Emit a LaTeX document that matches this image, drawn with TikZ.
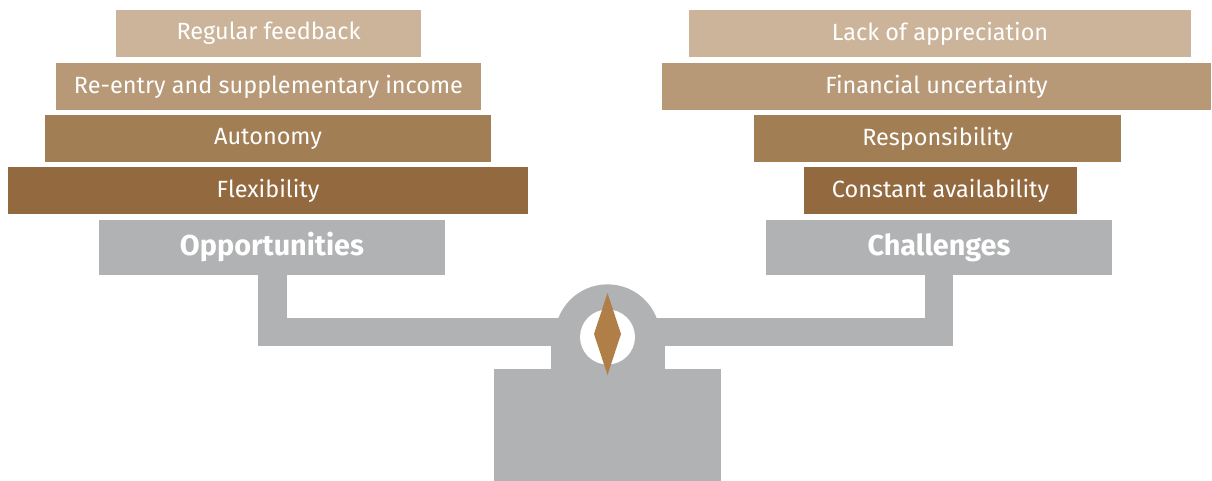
\documentclass[tikz,border=0pt]{standalone}
\usepackage{fontspec}
\setmainfont{Fira Sans}
\usepackage{xcolor}
\usepackage{tikz}

\definecolor{tanA}{HTML}{CBB49A}
\definecolor{tanB}{HTML}{B79877}
\definecolor{tanC}{HTML}{A27E55}
\definecolor{tanD}{HTML}{936A3F}
\definecolor{scalegrey}{HTML}{B1B2B4}
\definecolor{needle}{HTML}{B07F48}

\tikzset{
	bar/.style={rectangle,inner sep=0pt,minimum height=35.25pt,text=white,
		font=\fontsize{17.6}{20}\selectfont},
	pan/.style={rectangle,inner sep=0pt,minimum height=41.25pt,minimum width=259.5pt,
		fill=scalegrey,text=white,font=\fontsize{21.6}{24}\selectfont\bfseries}
}

\begin{document}
\begin{tikzpicture}[x=0.75pt,y=-0.75pt]
	\useasboundingbox (0,0) rectangle (1212,481);

	% the scale
	\fill[scalegrey] (258,275) rectangle (287,346);
	\fill[scalegrey] (925,275) rectangle (953,346);
	\fill[scalegrey] (258,318) rectangle (953,346);
	\fill[scalegrey] (551,318) rectangle (665,369);
	\fill[scalegrey] (607.5,337) circle [radius=39.5pt];
	\fill[white] (607.5,337) circle [radius=20.6pt];
	\fill[scalegrey] (494,369) rectangle (721,481);
	\fill[needle] (607.5,293) -- (621,334) -- (607.5,375) -- (594,334) -- cycle;

	% left pan
	\node[pan] (opp) at (272,247.5) {Opportunities};
	\node[bar,fill=tanD,minimum width=390pt] (flex) at (268,190.5) {Flexibility};
	\node[bar,fill=tanC,minimum width=334.5pt] (auto) at (268,138.5) {Autonomy};
	\node[bar,fill=tanB,minimum width=318.75pt] (reentry) at (268.5,86.5) {Re-entry and supplementary income};
	\node[bar,fill=tanA,minimum width=228.75pt] (feedback) at (268.5,33.5) {Regular feedback};

	% right pan
	\node[pan] (chal) at (939,247.5) {Challenges};
	\node[bar,fill=tanD,minimum width=204.75pt] (avail) at (940.5,190.5) {Constant availability};
	\node[bar,fill=tanC,minimum width=275.25pt] (resp) at (937.5,138.5) {Responsibility};
	\node[bar,fill=tanB,minimum width=411.75pt] (finance) at (936.5,86.5) {Financial uncertainty};
	\node[bar,fill=tanA,minimum width=376.5pt] (apprec) at (940,33.5) {Lack of appreciation};
\end{tikzpicture}
\end{document}
